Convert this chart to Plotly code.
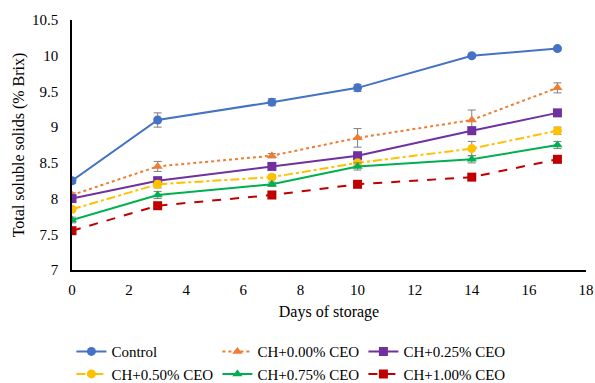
import plotly.graph_objects as go

days = [0, 3, 7, 10, 14, 17]
names = ["Control", "CH+0.00% CEO", "CH+0.25% CEO", "CH+0.50% CEO", "CH+0.75% CEO", "CH+1.00% CEO"]
control = [8.25, 9.10, 9.35, 9.55, 10.00, 10.10]
ch000 = [8.05, 8.45, 8.60, 8.85, 9.10, 9.55]
ch025 = [8.00, 8.25, 8.45, 8.60, 8.95, 9.20]
ch050 = [7.85, 8.20, 8.30, 8.50, 8.70, 8.95]
ch075 = [7.70, 8.05, 8.20, 8.45, 8.55, 8.75]
ch100 = [7.55, 7.90, 8.05, 8.20, 8.30, 8.55]
err_control = [0.04, 0.10, 0.05, 0.05, 0.02, 0.02]
err_ch000 = [0.03, 0.07, 0.03, 0.13, 0.14, 0.07]
err_ch025 = [0.03, 0.05, 0.03, 0.03, 0.05, 0.03]
err_ch050 = [0.03, 0.05, 0.03, 0.04, 0.10, 0.05]
err_ch075 = [0.04, 0.05, 0.03, 0.05, 0.05, 0.05]
err_ch100 = [0.03, 0.03, 0.05, 0.03, 0.03, 0.05]

series = [control, ch000, ch025, ch050, ch075, ch100]
errs = [err_control, err_ch000, err_ch025, err_ch050, err_ch075, err_ch100]
colors = ["#4472C4", "#ED7D31", "#7030A0", "#FFC000", "#00B050", "#C00000"]
dashes = ["solid", "dot", "solid", "dashdot", "solid", "dash"]
symbols = ["circle", "triangle-up", "square", "circle", "triangle-up", "square"]

fig = go.Figure()
for n, y, e, c, d, s in zip(names, series, errs, colors, dashes, symbols):
    fig.add_trace(go.Scatter(
        x=days, y=y, name=n, mode="lines+markers",
        line=dict(color=c, width=2, dash=d),
        marker=dict(symbol=s, size=9, color=c),
        error_y=dict(type="data", array=e, visible=True, color="#7F7F7F", thickness=1, width=4),
    ))

fam = "Liberation Serif"
tick_font = dict(family=fam, size=15, color="#000000")
title_font = dict(family=fam, size=16, color="#000000")
leg_font = dict(family=fam, size=15, color="#000000")
fig.update_layout(
    width=595, height=383,
    margin=dict(l=72, r=9, t=20, b=113, autoexpand=False),
    paper_bgcolor="white", plot_bgcolor="white",
    font=tick_font,
    xaxis=dict(range=[0, 18], tickvals=list(range(0, 19, 2)), showgrid=False, zeroline=False,
               showline=True, linecolor="black", linewidth=1.5, ticks="", tickfont=tick_font,
               ticklabelstandoff=5,
               title=dict(text="Days of storage", font=title_font, standoff=9)),
    yaxis=dict(range=[7, 10.5], tickvals=[7, 7.5, 8, 8.5, 9, 9.5, 10, 10.5],
               ticktext=["7", "7.5", "8", "8.5", "9", "9.5", "10", "10.5"],
               showgrid=False, zeroline=False, showline=True, linecolor="black", linewidth=1.5,
               ticks="", tickfont=tick_font, ticklabelstandoff=9,
               title=dict(text="Total soluble solids (% Brix)", font=title_font, standoff=3)),
    legend=dict(orientation="h", xref="container", yref="container", x=0.12, xanchor="left",
                y=0.125, yanchor="top",
                entrywidth=101, entrywidthmode="pixels", font=leg_font, tracegroupgap=0,
                itemwidth=30, bgcolor="rgba(0,0,0,0)"),
    showlegend=True,
)
fig.write_html("out.html", config={"displayModeBar": False},
               post_script="document.body.style.margin='0';")
